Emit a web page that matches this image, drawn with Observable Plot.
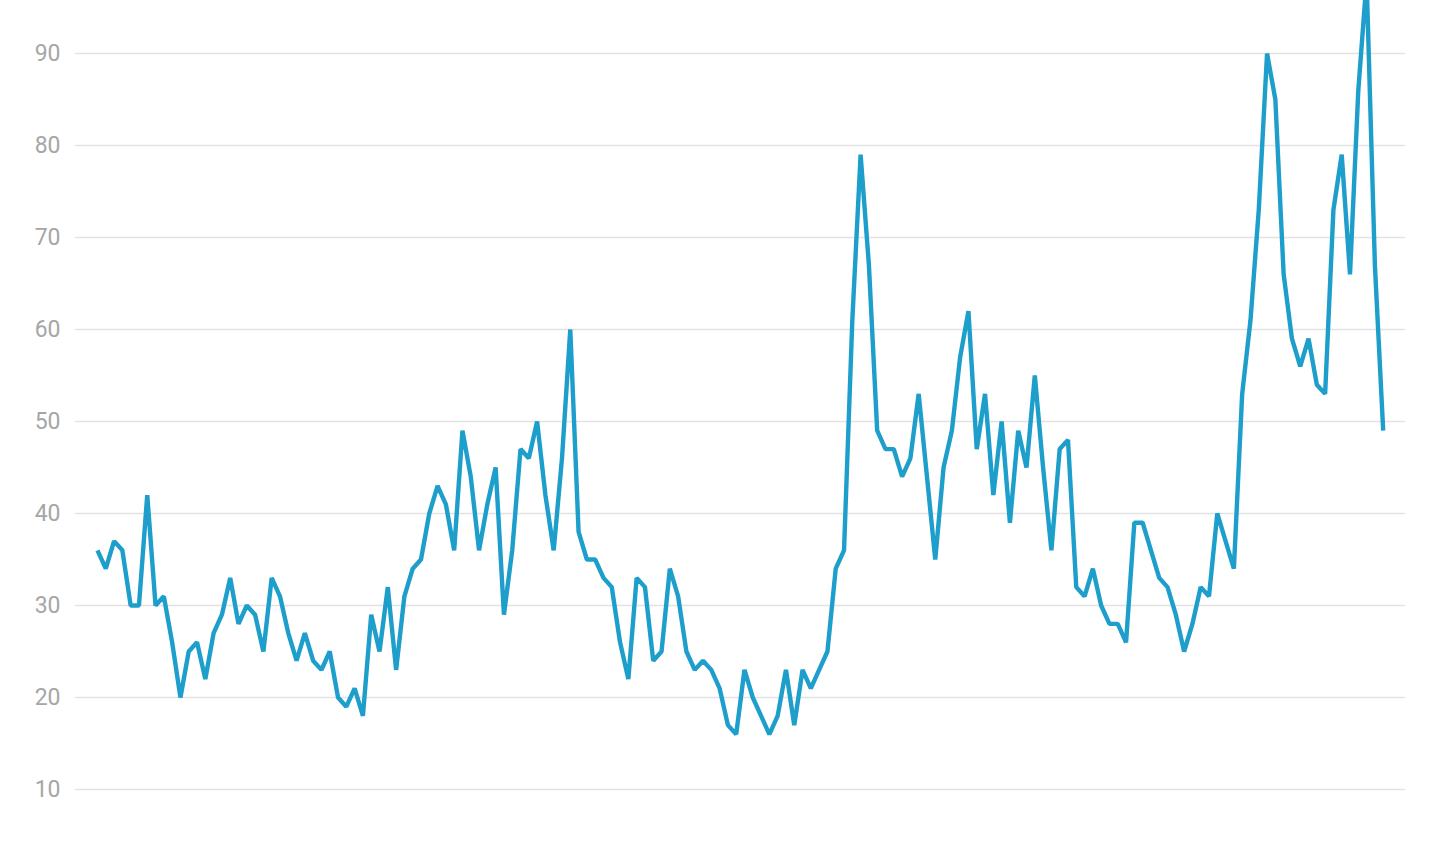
<!DOCTYPE html>
<html>
<head>
<meta charset="utf-8">
<script src="https://cdn.jsdelivr.net/npm/d3@7"></script>
<script src="https://cdn.jsdelivr.net/npm/@observablehq/plot@0.6"></script>
<style>
  html, body { margin: 0; padding: 0; background: #fff; }
  #chart svg { display: block; }
</style>
</head>
<body>
<div id="chart"></div>
<script>
// Monthly series (156 months)
const values = [
  36, 34, 37, 36, 30, 30, 42, 30, 31, 26, 20, 25,
  26, 22, 27, 29, 33, 28, 30, 29, 25, 33, 31, 27,
  24, 27, 24, 23, 25, 20, 19, 21, 18, 29, 25, 32,
  23, 31, 34, 35, 40, 43, 41, 36, 49, 44, 36, 41,
  45, 29, 36, 47, 46, 50, 42, 36, 46, 60, 38, 35,
  35, 33, 32, 26, 22, 33, 32, 24, 25, 34, 31, 25,
  23, 24, 23, 21, 17, 16, 23, 20, 18, 16, 18, 23,
  17, 23, 21, 23, 25, 34, 36, 61, 79, 67, 49, 47,
  47, 44, 46, 53, 44, 35, 45, 49, 57, 62, 47, 53,
  42, 50, 39, 49, 45, 55, 45, 36, 47, 48, 32, 31,
  34, 30, 28, 28, 26, 39, 39, 36, 33, 32, 29, 25,
  28, 32, 31, 40, 37, 34, 53, 61, 73, 90, 85, 66,
  59, 56, 59, 54, 53, 73, 79, 66, 86, 98, 67, 49
];
const yTicks = [10, 20, 30, 40, 50, 60, 70, 80, 90];

const data = values.map((v, i) => ({i, v}));

const plot = Plot.plot({
  width: 1439,
  height: 847,
  marginTop: 0,
  marginBottom: 0,
  marginLeft: 75,
  marginRight: 34,
  style: {background: "#fff", fontFamily: "Roboto, sans-serif", overflow: "hidden"},
  x: {domain: [-2.65, values.length - 1 + 2.69], axis: null},
  y: {domain: [3.696, 95.76], ticks: yTicks, tickSize: 0, tickPadding: 15, label: null},
  marks: [
    Plot.ruleY(yTicks, {stroke: "#e2e2e2", strokeWidth: 1.6}),
    Plot.axisY({ticks: yTicks, tickSize: 0, tickPadding: 15, label: null, fontSize: 23, fill: "#a6a6a6"}),
    Plot.line(data, {x: "i", y: "v", stroke: "#1d9ecb", strokeWidth: 4.4, strokeLinejoin: "bevel", strokeLinecap: "butt", clip: "frame"})
  ]
});
document.getElementById("chart").appendChild(plot);
</script>
</body>
</html>
